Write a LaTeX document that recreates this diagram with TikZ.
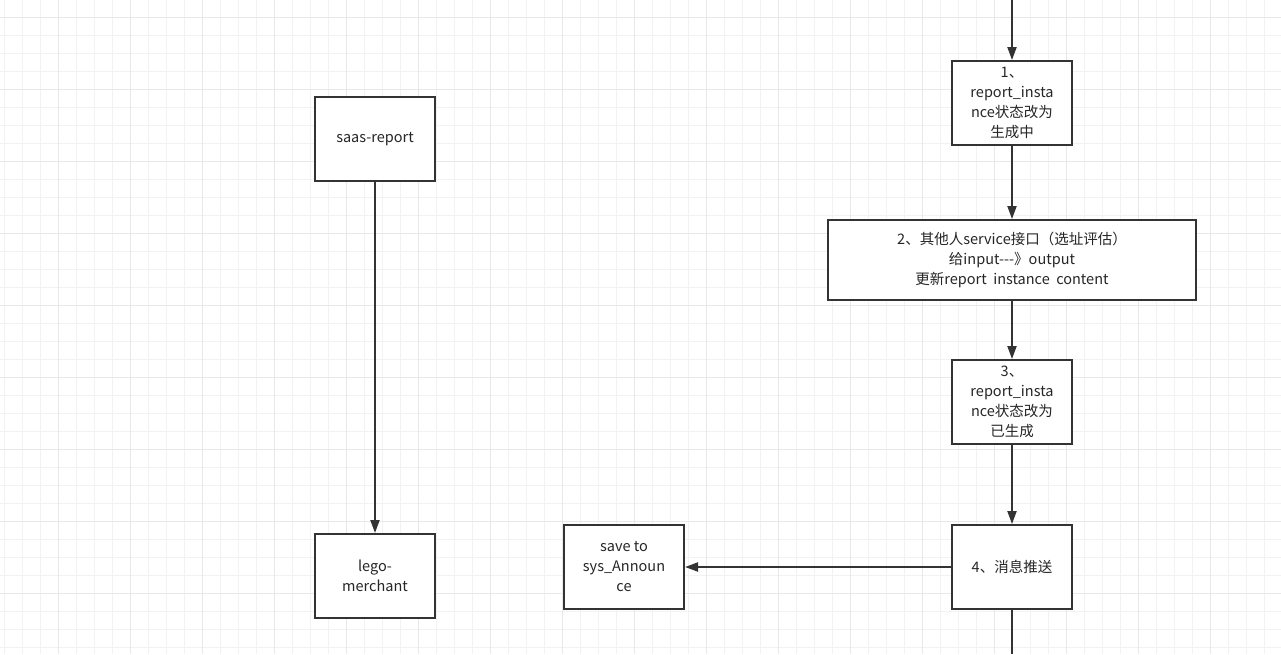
\documentclass[tikz,border=0pt]{standalone}
\usepackage{fontspec}
\setmainfont{Noto Sans CJK SC}
\usetikzlibrary{arrows.meta}
\begin{document}
\begin{tikzpicture}[x=1pt,y=-1pt,
  box/.style={draw=black!80,line width=2pt,fill=white,inner sep=0pt,align=center,font=\fontsize{14.5}{20}\selectfont,text=black!85},
  arr/.style={draw=black!80,line width=2pt,-{Triangle[length=13pt,width=9pt]}}]
\useasboundingbox (0,0) rectangle (1281,654);
\fill[white] (0,0) rectangle (1281,654);
\foreach \x in {4,22,...,1281} \draw[black!5,line width=1pt] (\x,0) -- (\x,654);
\foreach \y in {17,35,...,654} \draw[black!5,line width=1pt] (0,\y) -- (1281,\y);
\foreach \x in {58,130,...,1281} \draw[black!9,line width=1pt] (\x,0) -- (\x,654);
\foreach \y in {17,89,...,654} \draw[black!9,line width=1pt] (0,\y) -- (1281,\y);
\node[box,minimum width=120pt,minimum height=84pt] (saas) at (375,139) {saas-report};
\node[box,minimum width=120pt,minimum height=84pt] (lego) at (375,576) {lego-\\merchant};
\node[box,minimum width=120pt,minimum height=84pt] (b1) at (1012,103) {1、\\report\_insta\\nce状态改为\\生成中};
\node[box,minimum width=368pt,minimum height=80pt] (b2) at (1012,260) {2、其他人service接口（选址评估）\\给input{-}{-}{-}》output\\更新report\ \ instance\ \ content};
\node[box,minimum width=120pt,minimum height=84pt] (b3) at (1012,402) {3、\\report\_insta\\nce状态改为\\已生成};
\node[box,minimum width=120pt,minimum height=84pt] (b4) at (1012,567) {4、消息推送};
\node[box,minimum width=120pt,minimum height=84pt] (save) at (624,567) {save to\\sys\_Announ\\ce};
\coordinate (top) at (1012,0);
\coordinate (bot) at (1012,654);
\draw[arr] (top) -- (b1);
\draw[arr] (b1) -- (b2);
\draw[arr] (b2) -- (b3);
\draw[arr] (b3) -- (b4);
\draw[arr] (b4) -- (save);
\draw[arr] (saas) -- (lego);
\draw[draw=black!80,line width=2pt] (b4) -- (bot);
\end{tikzpicture}
\end{document}
